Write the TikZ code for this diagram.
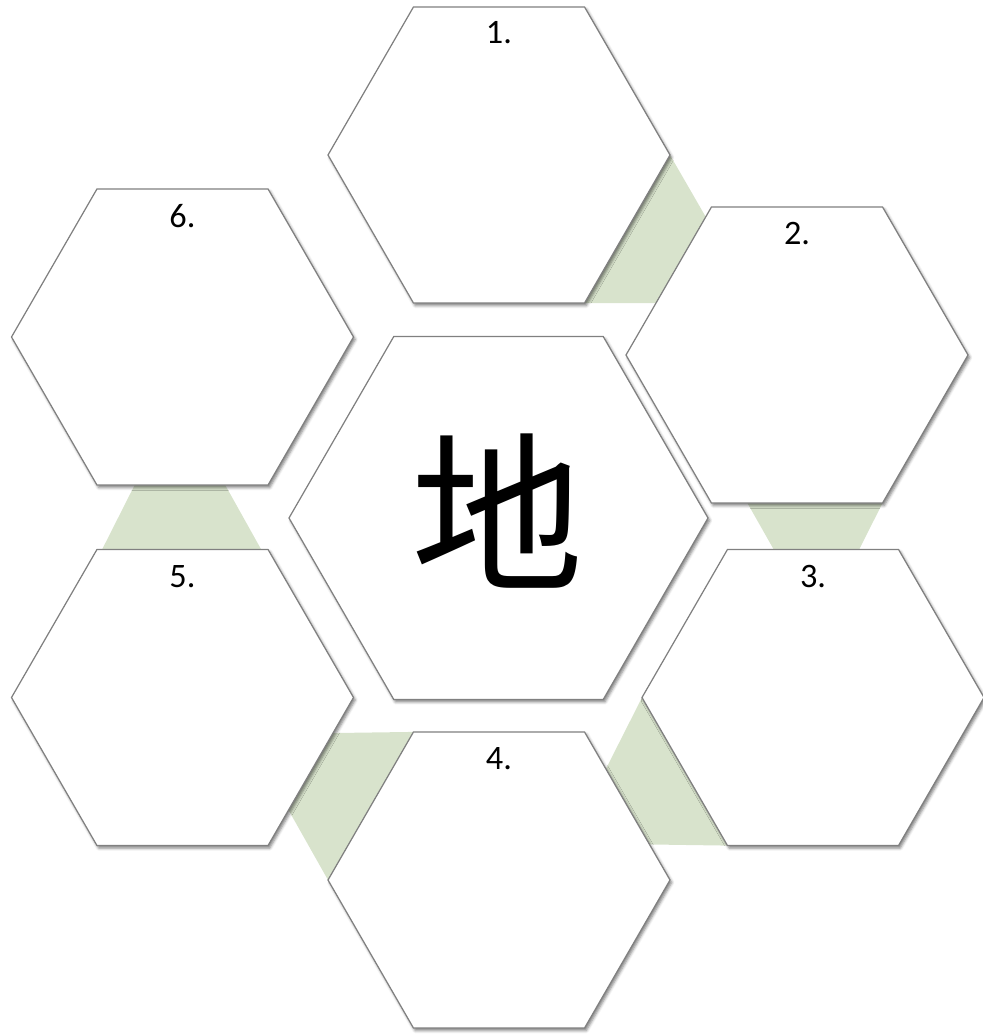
\documentclass[tikz,border=0pt]{standalone}
\usepackage{fontspec}
\setmainfont{Carlito}
\newfontfamily\cjk{Noto Sans CJK SC}
\usetikzlibrary{shapes.geometric,calc,shadows.blur}
\pgfdeclarelayer{background}
\pgfsetlayers{background,main}
\definecolor{hexline}{RGB}{128,128,128}
\definecolor{linkgreen}{RGB}{216,227,204}

\begin{document}
\begin{tikzpicture}[
		x=0.2mm, y=-0.2mm,
		hexcell/.style={draw=hexline, fill=white, line width=0.7pt,
			shape=regular polygon, regular polygon sides=6,
			minimum size=68.4mm, inner sep=0pt, outer sep=0pt,
			blur shadow={shadow xshift=1pt, shadow yshift=-1.4pt, shadow blur radius=1.6pt, shadow opacity=50}},
		centrecell/.style={hexcell, minimum size=83.8mm},
		numlabel/.style={font=\fontsize{19.5}{20}\selectfont},
		link/.style={fill=linkgreen}
		]
		\useasboundingbox (0,0) rectangle (982,1035);
		\node[hexcell] (h1) at (499,155) {};
		\node[hexcell] (h2) at (797,355) {};
		\node[hexcell] (h3) at (813,697.5) {};
		\node[hexcell] (h4) at (499,880) {};
		\node[hexcell] (h5) at (182.5,697.5) {};
		\node[hexcell] (h6) at (182.5,337) {};
		\node[centrecell] (hc) at (498.5,518) {};
		\node[font=\cjk\fontsize{98}{98}\selectfont] (kanji) at (498,511) {地};
		\node[numlabel] (n1) at ($(h1.north)+(0,26)$) {1.};
		\node[numlabel] (n2) at ($(h2.north)+(0,27)$) {2.};
		\node[numlabel] (n3) at ($(h3.north)+(0,27)$) {3.};
		\node[numlabel] (n4) at ($(h4.north)+(0,27)$) {4.};
		\node[numlabel] (n5) at ($(h5.north)+(0,27)$) {5.};
		\node[numlabel] (n6) at ($(h6.north)+(0,27)$) {6.};
		\begin{pgfonlayer}{background}
			\fill[link] (h1.0) -- ($(h1.60)!1.6!(h1.0)$) -- ($(h2.120)!0.65!(h2.180)$) -- (h1.-60) -- cycle;
			\fill[link] ($(h2.-120)!0.21!(h2.-60)$) -- (h2.-60) -- ($(h3.120)!0.77!(h3.60)$) -- ($(h3.120)!0.27!(h3.60)$) -- cycle;
			\fill[link] (h3.180) -- ($(h4.60)!0.25!(h4.0)$) -- ($(h4.60)!0.76!(h4.0)$) -- (h3.-120) -- cycle;
			\fill[link] (h4.120) -- ($(h5.0)!0.24!(h5.-60)$) -- ($(h5.0)!0.76!(h5.-60)$) -- (h4.180) -- cycle;
			\fill[link] ($(h6.-120)!0.22!(h6.-60)$) -- ($(h6.-120)!0.75!(h6.-60)$) -- ($(h5.120)!0.96!(h5.60)$) -- ($(h5.120)!0.03!(h5.60)$) -- cycle;
		\end{pgfonlayer}
	\end{tikzpicture}
\end{document}
